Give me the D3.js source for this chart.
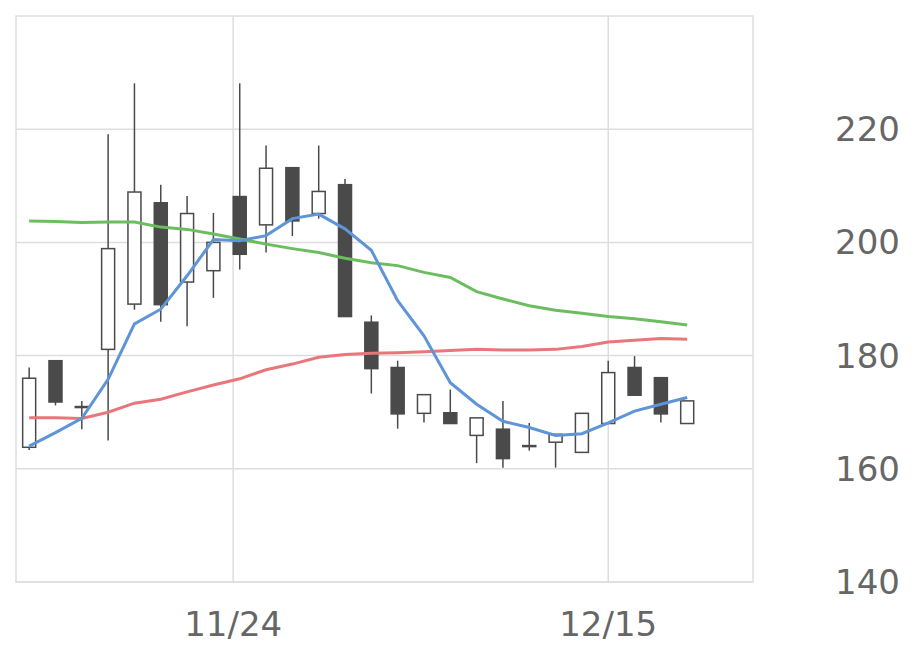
<!DOCTYPE html>
<html><head><meta charset="utf-8">
<script src="https://cdn.jsdelivr.net/npm/d3@7"></script>
<style>body{margin:0;background:#fff}svg text{font-family:"DejaVu Sans",sans-serif}</style>
</head><body><svg id="c" width="920" height="669"></svg>
<script>
const opens  = [163.8,179.1,170.9,181.1,189.1,207.0,193.0,195.0,208.1,203.1,213.2,205.1,210.2,185.9,177.9,169.8,169.9,165.9,167.0,164.0,164.7,162.9,168.0,177.9,176.1,168.0];
const closes = [176.0,171.8,171.0,198.9,208.9,189.0,205.1,200.0,197.9,213.1,203.8,209.0,186.9,177.7,169.7,173.1,168.0,169.0,161.8,164.1,166.1,169.8,177.0,173.0,169.7,172.0];
const highs  = [177.9,179.1,172.0,219.1,228.1,210.2,208.2,205.2,228.1,217.1,213.2,217.1,211.2,187.1,179.1,173.1,174.0,169.0,172.0,168.1,166.1,169.8,179.1,179.9,176.1,172.0];
const lows   = [163.3,171.2,167.0,165.0,188.1,186.0,185.2,190.2,195.2,198.2,201.1,204.2,186.9,173.3,167.1,168.2,168.0,161.0,160.2,163.2,160.2,162.9,168.0,173.0,168.2,168.0];
const ma5  = [164.0,166.4,168.9,175.8,185.6,188.2,194.1,200.5,200.3,201.2,204.2,205.0,202.4,198.6,189.7,183.5,175.2,171.4,168.4,167.3,165.9,166.2,168.1,170.2,171.4,172.6];
const ma25 = [169.0,169.0,168.9,170.0,171.6,172.3,173.6,174.8,175.9,177.5,178.5,179.7,180.2,180.4,180.5,180.7,180.9,181.1,181.0,181.0,181.1,181.6,182.4,182.7,183.0,182.9];
const ma75 = [203.8,203.7,203.5,203.6,203.6,202.7,202.3,201.5,200.6,199.7,198.9,198.2,197.2,196.4,195.9,194.7,193.8,191.3,190.0,188.8,188.0,187.5,186.9,186.5,186.0,185.4];
const xTickPos = [7.75, 22];
const xTickLabels = ["11/24","12/15"];
const yTicks = [140,160,180,200,220];

const svg = d3.select("#c");
const L=16,R=753,T=16,B=582;
const x = d3.scaleLinear().domain([-0.5,27.5]).range([L,R]);
const y = d3.scaleLinear().domain([140,240]).range([B,T]);
const idx = d3.range(opens.length);

// grid
svg.append("g").selectAll("line").data(yTicks).join("line")
  .attr("x1",L).attr("x2",R).attr("y1",d=>y(d)).attr("y2",d=>y(d))
  .attr("stroke","#dedede").attr("stroke-width",1.5);
svg.append("g").selectAll("line").data(xTickPos).join("line")
  .attr("x1",d=>x(d)).attr("x2",d=>x(d)).attr("y1",T).attr("y2",B)
  .attr("stroke","#dedede").attr("stroke-width",1.5);
svg.append("rect").attr("x",L).attr("y",T).attr("width",R-L).attr("height",B-T)
  .attr("fill","none").attr("stroke","#dedede").attr("stroke-width",1.5);

// candles
const col="#4a4a4a", w=13;
const g = svg.append("g");
g.selectAll("line.w").data(idx).join("line")
  .attr("x1",i=>x(i)).attr("x2",i=>x(i)).attr("y1",i=>y(highs[i])).attr("y2",i=>y(lows[i]))
  .attr("stroke",col).attr("stroke-width",1.5);
g.selectAll("rect").data(idx).join("rect")
  .attr("x",i=>x(i)-w/2).attr("width",w)
  .attr("y",i=>y(Math.max(opens[i],closes[i])))
  .attr("height",i=>Math.max(1,Math.abs(y(opens[i])-y(closes[i]))))
  .attr("fill",i=>closes[i]>=opens[i]?"#fff":col)
  .attr("stroke",col).attr("stroke-width",1.5);

// MAs
const line = d3.line().x((d,i)=>x(i)).y(d=>y(d));
[[ma75,"#6cbd5f"],[ma25,"#e8767b"],[ma5,"#5f94d6"]].forEach(([d,c])=>{
  svg.append("path").attr("d",line(d)).attr("fill","none").attr("stroke",c).attr("stroke-width",3);
});

// labels
svg.append("g").selectAll("text").data(yTicks).join("text")
  .attr("x",900).attr("y",d=>y(d)+12).attr("text-anchor","end")
  .attr("font-size",34).attr("fill","#666").text(d=>d);
svg.append("g").selectAll("text").data(xTickPos).join("text")
  .attr("x",d=>x(d)).attr("y",636).attr("text-anchor","middle")
  .attr("font-size",34).attr("fill","#666").text((d,i)=>xTickLabels[i]);
</script></body></html>
